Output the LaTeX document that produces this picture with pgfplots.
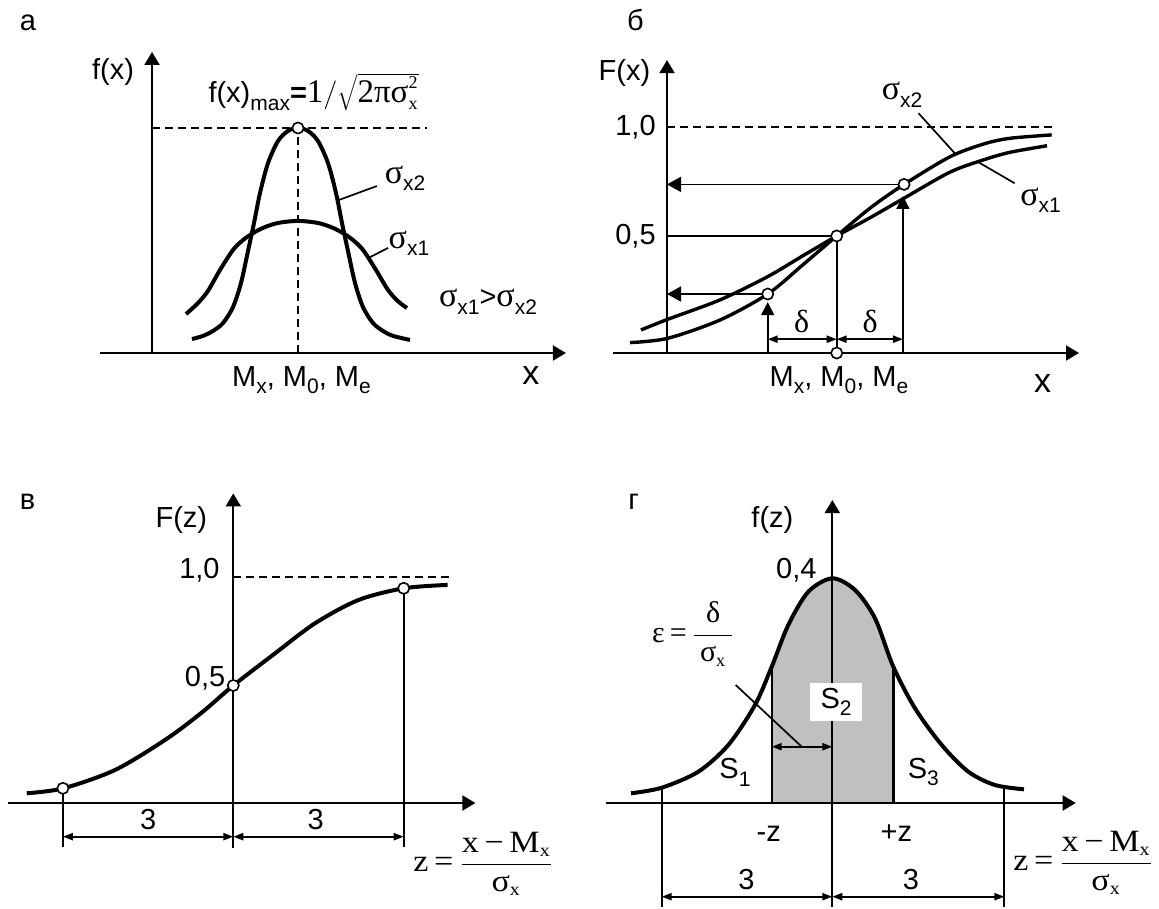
\documentclass[border=0pt]{standalone}
\usepackage{fontspec}
\setmainfont{Liberation Sans}
\newfontfamily\gr{Liberation Serif}
\usepackage{pgfplots}
\pgfplotsset{compat=1.18}
\usetikzlibrary{arrows.meta}
\definecolor{shade}{RGB}{192,192,192}

% small helpers for the labels
\newcommand\sub[1]{\raisebox{-0.25em}{\fontsize{10.5}{10.5}\selectfont #1}}
\newcommand\sig[1]{{\fontsize{17}{17}\selectfont\gr σ}\sub{#1}}
\newcommand\tsub[1]{\mbox{\fontsize{9}{9}\selectfont\gr #1}}
\newcommand\zform{\scalebox{1.1}[1]{\fontsize{15.5}{15.5}\selectfont\gr z\,=\,$\displaystyle\frac{\mbox{\gr x\,−\,M}_{\tsub{x}}}{\mbox{\gr σ}_{\tsub{x}}}$}}

\pgfplotsset{
  sketch/.style={axis lines=middle,
    axis line style={line width=1pt,-{Triangle[length=6.5pt,width=7.5pt]}},
    xtick=\empty, ytick=\empty, clip=false, enlargelimits=false, anchor=origin},
  crv/.style={black,line width=2pt,smooth},
  ln/.style={black,line width=0.85pt},
  dsh/.style={black,line width=0.9pt,dash pattern=on 4pt off 2.5pt},
  circ/.style={only marks,mark=*,mark size=2.8pt,
    mark options={fill=white,draw=black,line width=0.8pt,solid}},
  harr/.style={ln,-{Triangle[length=7pt,width=7.5pt]}},
  varr/.style={ln,-{Triangle[length=6.5pt,width=6.5pt]}},
  dim/.style={ln,{Triangle[length=5pt,width=3.6pt]}-{Triangle[length=5pt,width=3.6pt]}},
}

\begin{document}
\begin{tikzpicture}[font=\fontsize{14.5}{17}\selectfont]
\useasboundingbox (0,0) rectangle (579.5pt,-454pt);

% ---------- а: densities ----------
\begin{axis}[sketch, at={(76pt,-176.5pt)}, x=18.25pt, y=112.5pt,
  xmin=-1.425, xmax=11.34, ymin=0, ymax=1.338]
\addplot[dsh] coordinates {(0,1) (7.53,1)};
\addplot[dsh] coordinates {(4,0) (4,1)};
\addplot[crv] coordinates {
  (1.096,0.062) (1.397,0.076) (1.671,0.098) (1.945,0.133) (2.219,0.204)
  (2.438,0.311) (2.630,0.453) (2.795,0.578) (2.959,0.711) (3.178,0.844)
  (3.452,0.942) (3.726,0.987) (4,1) (4.274,0.987) (4.548,0.942)
  (4.822,0.844) (5.041,0.711) (5.205,0.578) (5.370,0.453) (5.562,0.311)
  (5.781,0.204) (6.055,0.133) (6.329,0.098) (6.603,0.076) (7.068,0.058)};
\addplot[crv] coordinates {
  (0.932,0.173) (1.260,0.222) (1.534,0.276) (1.863,0.369) (2.219,0.458)
  (2.493,0.502) (2.740,0.530) (3.041,0.556) (3.452,0.578) (4,0.587)
  (4.548,0.578) (4.959,0.556) (5.260,0.530) (5.507,0.502) (5.781,0.458)
  (6.137,0.369) (6.466,0.280) (6.740,0.230) (6.986,0.200)};
\addplot[ln] coordinates {(5.12,0.68) (6.16,0.742)};
\addplot[ln] coordinates {(5.9,0.42) (6.47,0.467)};
\addplot[circ] coordinates {(4,1)};
\node at (-3.397,1.467) {а};
\node at (-1.068,1.249) {f(x)};
\node at (4.425,1.16) {f(x)\sub{max}\textbf{=}{\fontsize{16.5}{16.5}\selectfont\gr 1}$\Big/\sqrt{\mbox{\fontsize{16.5}{16.5}\selectfont\gr 2πσ}^{\tsub{2}}_{\tsub{x}}}$};
\node at (6.932,0.778) {\sig{x2}};
\node at (7.041,0.489) {\sig{x1}};
\node at (9.205,0.227) {\sig{x1}>\sig{x2}};
\node at (4.096,-0.12) {M\sub{x}, M\sub{0}, M\sub{e}};
\node at (10.38,-0.098) {\fontsize{17}{17}\selectfont x};
\end{axis}

% ---------- б: distribution functions ----------
\begin{axis}[sketch, at={(333.5pt,-176.5pt)}, x=28.285pt, y=113pt,
  xmin=-0.955, xmax=7.283, ymin=0, ymax=1.296]
\addplot[dsh] coordinates {(0,1) (6.832,1)};
\addplot[ln] coordinates {(0,0.518) (3,0.518)};
\addplot[ln] coordinates {(3,0.518) (3,0)};
\addplot[harr] coordinates {(4.19,0.746) (0,0.746)};
\addplot[harr] coordinates {(1.78,0.261) (0,0.261)};
\addplot[varr] coordinates {(1.78,0) (1.78,0.225)};
\addplot[varr] coordinates {(4.17,0) (4.17,0.695)};
\addplot[dim] coordinates {(1.78,0.061) (3,0.061)};
\addplot[dim] coordinates {(3,0.061) (4.17,0.061)};
\addplot[crv,line width=1.7pt] coordinates {
  (-0.654,0.046) (0.012,0.065) (0.937,0.146) (1.780,0.261) (2.4,0.39)
  (3,0.518) (3.6,0.643) (4.190,0.746) (5.0,0.868) (5.6,0.925)
  (6.063,0.950) (6.8,0.965)};
\addplot[crv,line width=1.7pt] coordinates {
  (-0.46,0.102) (0.012,0.149) (0.937,0.235) (1.780,0.338) (2.4,0.43)
  (3,0.518) (3.6,0.60) (4.190,0.685) (5.0,0.80) (5.6,0.855)
  (6.063,0.888) (6.717,0.917)};
\addplot[ln] coordinates {(4.446,1.061) (5.1,0.88)};
\addplot[ln] coordinates {(5.5,0.845) (6.146,0.751)};
\addplot[circ] coordinates {(1.78,0.261) (3,0.518) (4.19,0.746) (3,0)};
\node at (-0.557,1.473) {б};
\node at (-0.753,1.238) {F(x)};
\node[anchor=east,inner sep=0pt] at (-0.194,1.0) {1,0};
\node[anchor=east,inner sep=0pt] at (-0.194,0.515) {0,5};
\node at (4.154,1.142) {\sig{x2}};
\node at (6.604,0.677) {\sig{x1}};
\node at (2.381,0.138) {\fontsize{16}{16}\selectfont\gr δ};
\node at (3.589,0.138) {\fontsize{16}{16}\selectfont\gr δ};
\node at (3.04,-0.119) {M\sub{x}, M\sub{0}, M\sub{e}};
\node at (6.638,-0.133) {\fontsize{17}{17}\selectfont x};
\end{axis}

% ---------- в: standard distribution function ----------
\begin{axis}[sketch, at={(116.65pt,-401.5pt)}, x=28.4pt, y=113pt,
  xmin=-3.967, xmax=4.262, ymin=-0.199, ymax=1.370]
\addplot[dsh] coordinates {(0,0.999) (3.833,0.999)};
\addplot[ln] coordinates {(-3,0.065) (-3,-0.193)};
\addplot[ln] coordinates {(3,0.95) (3,-0.193)};
\addplot[dim] coordinates {(-3,-0.149) (0,-0.149)};
\addplot[dim] coordinates {(0,-0.149) (3,-0.149)};
\addplot[crv] coordinates {
  (-3.637,0.043) (-2.993,0.065) (-2.083,0.146) (-1.202,0.279) (-0.556,0.40)
  (0,0.52) (0.734,0.662) (1.438,0.795) (2.201,0.898) (3.0,0.950) (3.773,0.965)};
\addplot[circ] coordinates {(-3,0.065) (0,0.52) (3,0.95)};
\node at (-3.62,1.333) {в};
\node at (-0.915,1.252) {F(z)};
\node[anchor=east,inner sep=0pt] at (-0.234,1.031) {1,0};
\node[anchor=east,inner sep=0pt] at (-0.134,0.552) {0,5};
\node at (-1.5,-0.075) {3};
\node at (1.45,-0.075) {3};
\node[anchor=west,inner sep=0pt] at (3.164,-0.27) {\zform};
\end{axis}

% ---------- г: standard density ----------
\begin{axis}[sketch, at={(416.15pt,-401.5pt)}, x=28.55pt, y=280.85pt,
  xmin=-3.965, xmax=4.263, ymin=-0.1846, ymax=0.5394]
\addplot[fill=shade,draw=none,smooth] coordinates {
  (-1.061,0.2427) (-0.771,0.3169) (-0.420,0.3762) (0,0.4) (0.398,0.3792)
  (0.748,0.3288) (1.068,0.2427)} \closedcycle;
\addplot[black,line width=1.2pt] coordinates {(-1.061,0.2427) (-1.061,0) (1.068,0) (1.068,0.2427)};
\addplot[black,line width=1pt] coordinates {(0,0) (0,0.4)};
\addplot[crv] coordinates {
  (-3.525,0.0173) (-2.988,0.0272) (-2.347,0.0557) (-1.821,0.1033) (-1.354,0.1745)
  (-1.061,0.2427) (-0.771,0.3169) (-0.420,0.3762) (0,0.4) (0.398,0.3792)
  (0.748,0.3288) (1.068,0.2427) (1.448,0.1686) (1.916,0.1033) (2.382,0.0557)
  (2.849,0.0320) (3.357,0.0244)};
\addplot[ln] coordinates {(-2.988,0.0272) (-2.988,-0.1846)};
\addplot[ln] coordinates {(3.012,0.0296) (3.012,-0.1846)};
\addplot[dim] coordinates {(-2.988,-0.1668) (0,-0.1668)};
\addplot[dim] coordinates {(0,-0.1668) (3.012,-0.1668)};
\addplot[dim] coordinates {(-1.061,0.1002) (0,0.1002)};
\addplot[ln] coordinates {(-1.692,0.2101) (-0.536,0.1002)};
\node[fill=white,minimum width=25.9pt,minimum height=18.7pt,inner sep=0pt] at (0.065,0.1798) {S\sub{2}};
\node at (-3.48,0.5364) {г};
\node at (-1.049,0.5038) {f(z)};
\node[anchor=east,inner sep=0pt] at (-0.271,0.4148) {0,4};
\node at (-1.705,0.0547) {S\sub{1}};
\node at (1.594,0.0547) {S\sub{3}};
\node at (-1.114,-0.054) {-z};
\node at (1.121,-0.054) {+z};
\node at (-1.503,-0.137) {3};
\node at (1.378,-0.137) {3};
\node at (-2.433,0.3009) {\fontsize{15}{15}\selectfont\gr ε\,=\,$\displaystyle\frac{\makebox[19pt]{\gr δ}}{\mbox{\gr σ}_{\tsub{x}}}$};
\node[anchor=west,inner sep=0pt] at (3.162,-0.1068) {\zform};
\end{axis}
\end{tikzpicture}
\end{document}
